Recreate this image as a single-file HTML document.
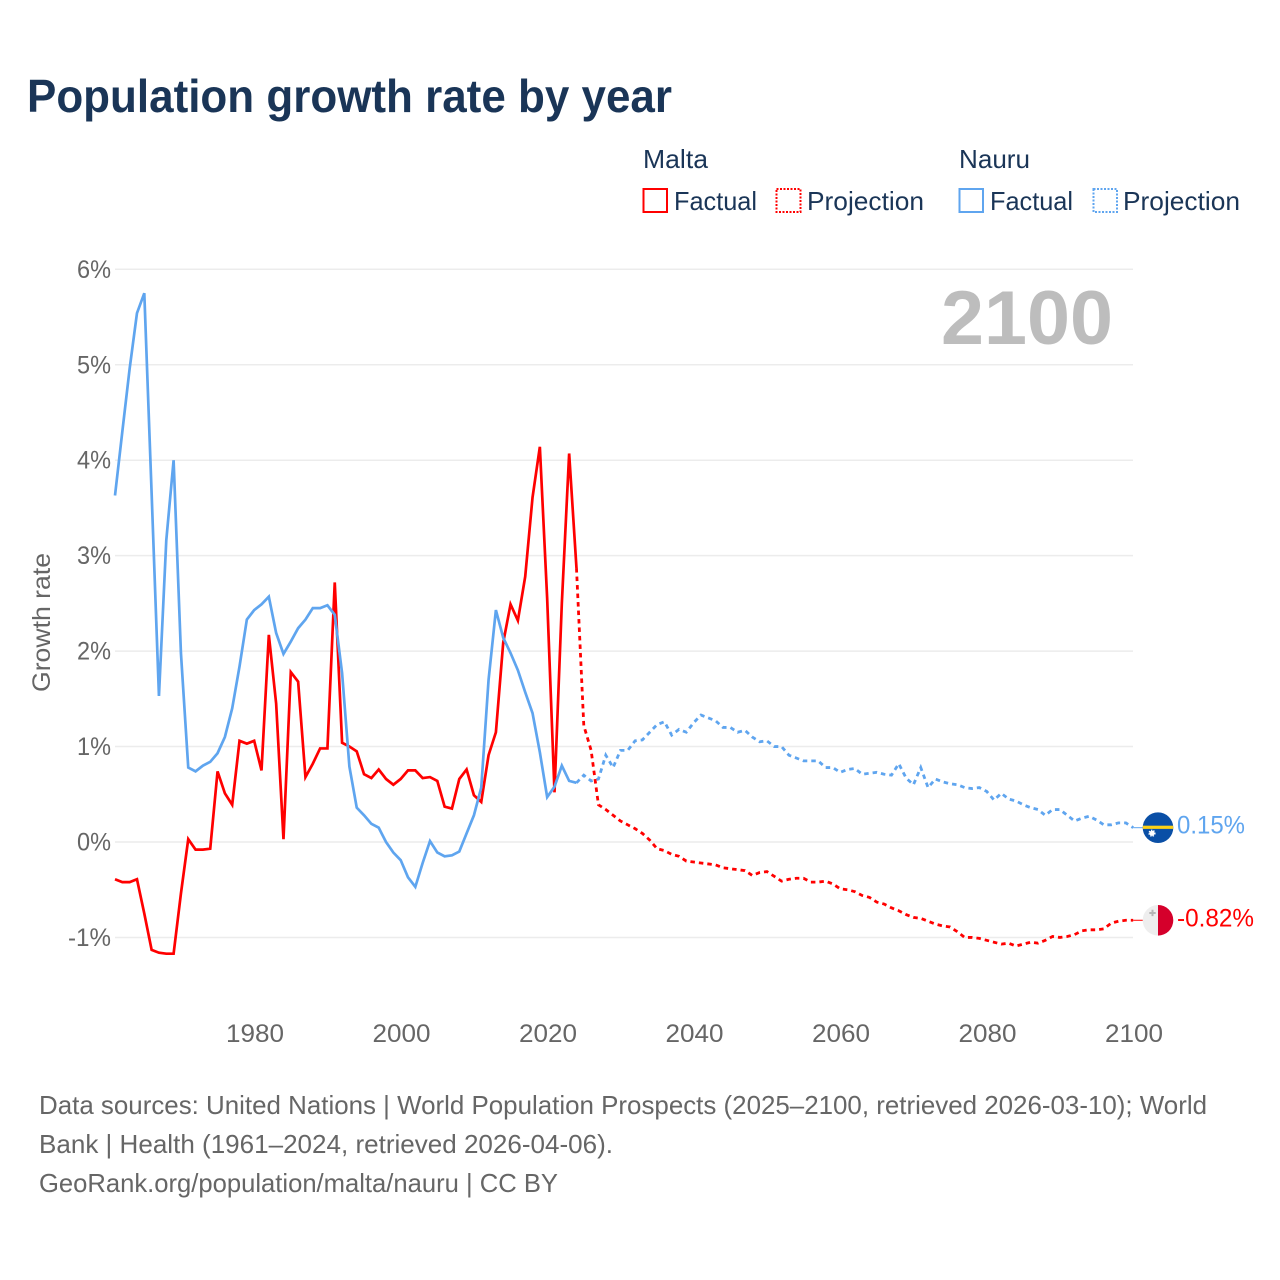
<!DOCTYPE html>
<html lang="en">
<head>
<meta charset="utf-8">
<title>Population growth rate by year</title>
<style>
html,body{margin:0;padding:0;background:#fff;}
svg{display:block;font-family:"Liberation Sans",sans-serif;}
</style>
</head>
<body>
<svg id="chart" xmlns="http://www.w3.org/2000/svg" width="1280" height="1280" viewBox="0 0 1280 1280">
  <rect x="0" y="0" width="1280" height="1280" fill="#fff"/>
  <text x="27" y="112" font-size="46" font-weight="700" fill="#1a3557" textLength="645" lengthAdjust="spacingAndGlyphs">Population growth rate by year</text>

  <g font-size="26" fill="#1a3557">
    <text x="643" y="168" textLength="65" lengthAdjust="spacingAndGlyphs">Malta</text>
    <text x="959" y="168" textLength="71" lengthAdjust="spacingAndGlyphs">Nauru</text>
    <g>
      <rect x="643.5" y="189" width="23.5" height="23" fill="none" stroke="#ff0000" stroke-width="2"/>
      <text x="674" y="210" textLength="83" lengthAdjust="spacingAndGlyphs">Factual</text>
    </g>
    <g>
      <rect x="776.5" y="189" width="24" height="23" fill="none" stroke="#ff0000" stroke-width="2" stroke-dasharray="2 1.5"/>
      <text x="807" y="210" textLength="117" lengthAdjust="spacingAndGlyphs">Projection</text>
    </g>
    <g>
      <rect x="959.5" y="189" width="23.5" height="23" fill="none" stroke="#5fa5ef" stroke-width="2"/>
      <text x="990" y="210" textLength="83" lengthAdjust="spacingAndGlyphs">Factual</text>
    </g>
    <g>
      <rect x="1093.5" y="189" width="23.5" height="23" fill="none" stroke="#5fa5ef" stroke-width="2" stroke-dasharray="2 1.5"/>
      <text x="1123" y="210" textLength="117" lengthAdjust="spacingAndGlyphs">Projection</text>
    </g>
  </g>

  <g id="grid"></g>
  <g id="yticks"></g>
  <g id="xticks"></g>
  <text transform="translate(50,622.5) rotate(-90)" text-anchor="middle" font-size="25" fill="#666" textLength="139" lengthAdjust="spacingAndGlyphs">Growth rate</text>
  <text x="1113" y="344" text-anchor="end" font-size="76" font-weight="700" fill="#bdbdbd" textLength="172" lengthAdjust="spacingAndGlyphs">2100</text>
  <g id="series"></g>

  <g id="flag-nauru">
    <clipPath id="clip-nauru"><circle cx="0" cy="0" r="15.3"/></clipPath>
    <g clip-path="url(#clip-nauru)">
      <rect x="-16" y="-16" width="32" height="32" fill="#0a4fa6"/>
      <rect x="-16" y="-2" width="32" height="3.2" fill="#fcd116"/>
      <circle cx="-6" cy="5.5" r="2.6" fill="#fff" stroke="#fff" stroke-width="2" stroke-dasharray="1.2 1"/>
    </g>
  </g>
  <g id="flag-malta">
    <clipPath id="clip-malta"><circle cx="0" cy="0" r="15.3"/></clipPath>
    <g clip-path="url(#clip-malta)">
      <rect x="-16" y="-16" width="16" height="32" fill="#eeeeee"/>
      <rect x="0" y="-16" width="16" height="32" fill="#d5002b"/>
      <path d="M-6.5 -10.5h2v2.2h2.2v2h-2.2v2.2h-2v-2.2h-2.2v-2h2.2z" fill="#b5b5b5"/>
    </g>
  </g>
  <g id="end-labels"></g>

  <g font-size="26" fill="#666">
    <text x="39" y="1114" textLength="1168" lengthAdjust="spacingAndGlyphs">Data sources: United Nations | World Population Prospects (2025–2100, retrieved 2026-03-10); World</text>
    <text x="39" y="1153" textLength="574" lengthAdjust="spacingAndGlyphs">Bank | Health (1961–2024, retrieved 2026-04-06).</text>
    <text x="39" y="1192" textLength="519" lengthAdjust="spacingAndGlyphs">GeoRank.org/population/malta/nauru | CC BY</text>
  </g>
</svg>
<script>
const factualYears = [1961,1962,1963,1964,1965,1966,1967,1968,1969,1970,1971,1972,1973,1974,1975,1976,1977,1978,1979,1980,1981,1982,1983,1984,1985,1986,1987,1988,1989,1990,1991,1992,1993,1994,1995,1996,1997,1998,1999,2000,2001,2002,2003,2004,2005,2006,2007,2008,2009,2010,2011,2012,2013,2014,2015,2016,2017,2018,2019,2020,2021,2022,2023,2024];
const projectionYears = [2024,2025,2026,2027,2028,2029,2030,2031,2032,2033,2034,2035,2036,2037,2038,2039,2040,2041,2042,2043,2044,2045,2046,2047,2048,2049,2050,2051,2052,2053,2054,2055,2056,2057,2058,2059,2060,2061,2062,2063,2064,2065,2066,2067,2068,2069,2070,2071,2072,2073,2074,2075,2076,2077,2078,2079,2080,2081,2082,2083,2084,2085,2086,2087,2088,2089,2090,2091,2092,2093,2094,2095,2096,2097,2098,2099,2100];
const maltaFactual = [-0.39,-0.42,-0.42,-0.39,-0.75,-1.13,-1.16,-1.17,-1.17,-0.54,0.03,-0.08,-0.08,-0.07,0.74,0.51,0.39,1.06,1.03,1.06,0.75,2.17,1.45,0.03,1.78,1.68,0.68,0.82,0.98,0.98,2.72,1.04,1.00,0.95,0.71,0.67,0.76,0.66,0.60,0.66,0.75,0.75,0.67,0.68,0.64,0.37,0.35,0.66,0.76,0.49,0.42,0.91,1.15,2.09,2.49,2.32,2.78,3.61,4.14,2.55,0.52,2.50,4.07,2.87];
const nauruFactual = [3.63,4.30,4.96,5.54,5.75,3.65,1.53,3.16,4.00,1.98,0.78,0.74,0.80,0.84,0.93,1.10,1.40,1.84,2.33,2.43,2.49,2.57,2.19,1.97,2.10,2.24,2.33,2.45,2.45,2.48,2.38,1.77,0.79,0.36,0.28,0.19,0.15,0.00,-0.11,-0.19,-0.37,-0.47,-0.22,0.01,-0.11,-0.15,-0.14,-0.10,0.09,0.28,0.57,1.70,2.43,2.14,1.98,1.80,1.57,1.35,0.94,0.47,0.58,0.80,0.64,0.62];
const maltaProjection = [2.87,1.22,0.96,0.39,0.34,0.28,0.22,0.18,0.14,0.09,0.02,-0.07,-0.09,-0.13,-0.15,-0.20,-0.21,-0.22,-0.23,-0.24,-0.27,-0.28,-0.29,-0.30,-0.35,-0.32,-0.31,-0.36,-0.41,-0.39,-0.38,-0.38,-0.42,-0.42,-0.41,-0.44,-0.49,-0.50,-0.52,-0.56,-0.58,-0.63,-0.65,-0.69,-0.72,-0.76,-0.79,-0.80,-0.83,-0.86,-0.88,-0.89,-0.94,-1.00,-1.00,-1.01,-1.03,-1.05,-1.07,-1.06,-1.09,-1.07,-1.05,-1.06,-1.03,-0.99,-1.00,-0.99,-0.97,-0.93,-0.92,-0.92,-0.91,-0.85,-0.83,-0.82,-0.82];
const nauruProjection = [0.62,0.70,0.64,0.66,0.91,0.78,0.96,0.96,1.06,1.07,1.15,1.23,1.26,1.12,1.18,1.15,1.25,1.33,1.30,1.27,1.20,1.20,1.15,1.17,1.10,1.05,1.06,1.00,1.00,0.91,0.88,0.85,0.85,0.85,0.78,0.78,0.73,0.76,0.77,0.71,0.72,0.73,0.71,0.70,0.82,0.67,0.60,0.78,0.57,0.66,0.63,0.61,0.60,0.57,0.56,0.57,0.53,0.44,0.51,0.45,0.43,0.39,0.36,0.34,0.28,0.34,0.34,0.28,0.22,0.25,0.27,0.23,0.18,0.18,0.20,0.20,0.15];
const yTickValues = [-1,0,1,2,3,4,5,6];
const yTickLabels = ["-1%","0%","1%","2%","3%","4%","5%","6%"];
const xTickValues = [1980,2000,2020,2040,2060,2080,2100];
const xTickLabels = ["1980","2000","2020","2040","2060","2080","2100"];

const SVG_NS = 'http://www.w3.org/2000/svg';
function xScale(year){ return 115 + (year - 1961) * 7.325; }
function yScale(value){ return 842 - value * 95.45; }
function linePath(years, values){
  return years.map(function(yr, i){
    return (i ? 'L' : 'M') + xScale(yr).toFixed(2) + ' ' + yScale(values[i]).toFixed(2);
  }).join(' ');
}
const gridGroup = document.getElementById('grid');
const yGroup = document.getElementById('yticks');
const xGroup = document.getElementById('xticks');
const seriesGroup = document.getElementById('series');
const endGroup = document.getElementById('end-labels');

yTickValues.forEach(function(v, i){
  const line = document.createElementNS(SVG_NS, 'line');
  
  
  line.setAttribute('x1', 115);
  line.setAttribute('x2', 1133);
  line.setAttribute('y1', yScale(v));
  line.setAttribute('y2', yScale(v));
  line.setAttribute('stroke', '#ececec');
  line.setAttribute('stroke-width', '1.5');
  gridGroup.appendChild(line);
  const label = document.createElementNS(SVG_NS, 'text');
  
  
  label.setAttribute('x', 111);
  label.setAttribute('y', yScale(v) + 8.5);
  label.setAttribute('text-anchor', 'end');
  label.setAttribute('font-size', '25');
  label.setAttribute('fill', '#666');
  label.setAttribute('textLength', yTickLabels[i].length > 2 ? '43' : '34');
  label.setAttribute('lengthAdjust', 'spacingAndGlyphs');
  label.textContent = yTickLabels[i];
  yGroup.appendChild(label);
});

xTickValues.forEach(function(v, i){
  const label = document.createElementNS(SVG_NS, 'text');
  
  
  label.setAttribute('x', xScale(v) + 0.8);
  label.setAttribute('y', 1042);
  label.setAttribute('text-anchor', 'middle');
  label.setAttribute('font-size', '25');
  label.setAttribute('fill', '#666');
  label.setAttribute('textLength', '58');
  label.setAttribute('lengthAdjust', 'spacingAndGlyphs');
  label.textContent = xTickLabels[i];
  xGroup.appendChild(label);
});

const maltaFactualLine = document.createElementNS(SVG_NS, 'path');


maltaFactualLine.setAttribute('d', linePath(factualYears, maltaFactual));
maltaFactualLine.setAttribute('fill', 'none');
maltaFactualLine.setAttribute('stroke', '#ff0000');
maltaFactualLine.setAttribute('stroke-width', '2.7');
seriesGroup.appendChild(maltaFactualLine);

const nauruFactualLine = document.createElementNS(SVG_NS, 'path');


nauruFactualLine.setAttribute('d', linePath(factualYears, nauruFactual));
nauruFactualLine.setAttribute('fill', 'none');
nauruFactualLine.setAttribute('stroke', '#5fa5ef');
nauruFactualLine.setAttribute('stroke-width', '2.7');
seriesGroup.appendChild(nauruFactualLine);

const maltaProjectionLine = document.createElementNS(SVG_NS, 'path');


maltaProjectionLine.setAttribute('d', linePath(projectionYears, maltaProjection));
maltaProjectionLine.setAttribute('fill', 'none');
maltaProjectionLine.setAttribute('stroke', '#ff0000');
maltaProjectionLine.setAttribute('stroke-width', '2.8');
maltaProjectionLine.setAttribute('stroke-dasharray', '4.5 4');
seriesGroup.appendChild(maltaProjectionLine);

const nauruProjectionLine = document.createElementNS(SVG_NS, 'path');


nauruProjectionLine.setAttribute('d', linePath(projectionYears, nauruProjection));
nauruProjectionLine.setAttribute('fill', 'none');
nauruProjectionLine.setAttribute('stroke', '#5fa5ef');
nauruProjectionLine.setAttribute('stroke-width', '2.8');
nauruProjectionLine.setAttribute('stroke-dasharray', '4.5 4');
seriesGroup.appendChild(nauruProjectionLine);

const lastMalta = maltaProjection[maltaProjection.length - 1];
const lastNauru = nauruProjection[nauruProjection.length - 1];
const lastX = xScale(projectionYears[projectionYears.length - 1]);

const maltaConnector = document.createElementNS(SVG_NS, 'line');


maltaConnector.setAttribute('x1', lastX);
maltaConnector.setAttribute('x2', 1143);
maltaConnector.setAttribute('y1', yScale(lastMalta));
maltaConnector.setAttribute('y2', yScale(lastMalta));
maltaConnector.setAttribute('stroke', '#ff0000');
maltaConnector.setAttribute('stroke-width', '1');
seriesGroup.appendChild(maltaConnector);

const nauruConnector = document.createElementNS(SVG_NS, 'line');


nauruConnector.setAttribute('x1', lastX);
nauruConnector.setAttribute('x2', 1143);
nauruConnector.setAttribute('y1', yScale(lastNauru));
nauruConnector.setAttribute('y2', yScale(lastNauru));
nauruConnector.setAttribute('stroke', '#5fa5ef');
nauruConnector.setAttribute('stroke-width', '1');
seriesGroup.appendChild(nauruConnector);

document.getElementById('flag-nauru').setAttribute('transform', 'translate(1158,' + yScale(lastNauru) + ')');
document.getElementById('flag-malta').setAttribute('transform', 'translate(1158,' + yScale(lastMalta) + ')');

const nauruEnd = document.createElementNS(SVG_NS, 'text');


nauruEnd.setAttribute('x', 1177);
nauruEnd.setAttribute('y', yScale(lastNauru) + 6);
nauruEnd.setAttribute('font-size', '25');
nauruEnd.setAttribute('fill', '#5fa5ef');
nauruEnd.setAttribute('textLength', '68');
nauruEnd.setAttribute('lengthAdjust', 'spacingAndGlyphs');
nauruEnd.textContent = lastNauru.toFixed(2) + '%';
endGroup.appendChild(nauruEnd);

const maltaEnd = document.createElementNS(SVG_NS, 'text');


maltaEnd.setAttribute('x', 1177);
maltaEnd.setAttribute('y', yScale(lastMalta) + 6);
maltaEnd.setAttribute('font-size', '25');
maltaEnd.setAttribute('fill', '#ff0000');
maltaEnd.setAttribute('textLength', '77');
maltaEnd.setAttribute('lengthAdjust', 'spacingAndGlyphs');
maltaEnd.textContent = lastMalta.toFixed(2) + '%';
endGroup.appendChild(maltaEnd);
</script>
</body>
</html>
